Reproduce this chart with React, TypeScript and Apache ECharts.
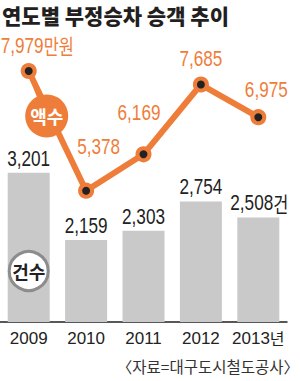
import React, { useEffect, useRef } from "react";
import * as echarts from "echarts";

const years = ["2009", "2010", "2011", "2012", "2013"];
const passengerCounts = [3201, 2159, 2303, 2754, 2508];
const fineAmounts = [7979, 5378, 6169, 7685, 6975];
const title = "연도별 부정승차 승객 추이";
const source = "〈자료=대구도시철도공사〉";
const countUnit = "건";
const amountUnit = "만원";
const yearUnit = "년";

const ORANGE = "#ef7d3a";
const GRAY = "#c9c9c9";
const NUM_FONT = "'Liberation Sans', Arial, 'Noto Sans CJK KR', sans-serif";
const KR_FONT = "'Noto Sans CJK KR', sans-serif";
const SQUEEZE = 0.78;

const fmt = (v: number) => v.toLocaleString("en-US");

// line-label anchor offsets relative to each point (dx, dy)
const lineLabelOffsets: [number, number][] = [
  [-28, -15],
  [12.5, -33.5],
  [-4.5, -31],
  [0, -15],
  [8, -17],
];

export default function App() {
  const ref = useRef<HTMLDivElement>(null);
  useEffect(() => {
    if (!ref.current) return;
    const chart = echarts.init(ref.current, undefined, { renderer: "svg" });
    const n = years.length;
    chart.setOption({
      animation: false,
      backgroundColor: "#ffffff",
      grid: { left: 0, right: 13, top: 20, bottom: 59, containLabel: false },
      xAxis: {
        type: "category",
        data: years,
        axisLine: { show: true, lineStyle: { color: "#222", width: 1.5 } },
        axisTick: { show: false },
        axisLabel: {
          interval: 0,
          margin: 8,
          fontSize: 17,
          color: "#222",
          fontFamily: "'Liberation Sans', Arial, sans-serif",
          formatter: (v: string, i: number) =>
            i === n - 1 ? "{y|" + v + "}{u|" + yearUnit + "}" : "{y|" + v + "}",
          rich: {
            y: { fontSize: 17, color: "#222", fontFamily: "'Liberation Sans', Arial, sans-serif" },
            u: { fontSize: 16, color: "#222", fontFamily: KR_FONT, padding: [0, 0, 1, 0] },
          },
        },
      },
      yAxis: [
        { type: "value", min: 890, max: 5565, show: false, splitLine: { show: false } },
        { type: "value", min: 2525, max: 9087, show: false, splitLine: { show: false } },
      ],
      series: [
        {
          type: "bar",
          yAxisIndex: 0,
          barWidth: 42,
          data: passengerCounts,
          itemStyle: { color: GRAY },
          z: 2,
        },
        {
          type: "line",
          yAxisIndex: 1,
          data: fineAmounts,
          lineStyle: { color: ORANGE, width: 6 },
          symbol: "circle",
          symbolSize: 12,
          itemStyle: { color: "#222", borderColor: ORANGE, borderWidth: 4 },
          z: 5,
        },
      ],
    });

    const graphics: any[] = [];
    passengerCounts.forEach((v, i) => {
      const p = chart.convertToPixel({ xAxisIndex: 0, yAxisIndex: 0 }, [i, v]) as number[];
      const last = i === n - 1;
      graphics.push({
        type: "text",
        x: p[0] + (last ? 1 : 0),
        y: p[1] - 4,
        scaleX: SQUEEZE,
        style: {
          text: last ? "{n|" + fmt(v) + "}{u|" + countUnit + "}" : "{n|" + fmt(v) + "}",
          align: "center",
          verticalAlign: "bottom",
          fill: "#222",
          rich: {
            n: { fontSize: 22, fill: "#222", fontFamily: NUM_FONT },
            u: { fontSize: 21, fill: "#222", fontFamily: KR_FONT },
          },
        },
        z: 10,
      });
    });
    fineAmounts.forEach((v, i) => {
      const p = chart.convertToPixel({ xAxisIndex: 0, yAxisIndex: 1 }, [i, v]) as number[];
      const first = i === 0;
      const [dx, dy] = lineLabelOffsets[i];
      graphics.push({
        type: "text",
        x: p[0] + dx,
        y: p[1] + dy,
        scaleX: SQUEEZE,
        style: {
          text: first ? "{n|" + fmt(v) + "}{u|" + amountUnit + "}" : "{n|" + fmt(v) + "}",
          align: first ? "left" : "center",
          verticalAlign: "bottom",
          fill: ORANGE,
          rich: {
            n: { fontSize: 22, fill: ORANGE, fontFamily: NUM_FONT },
            u: { fontSize: 21, fill: ORANGE, fontFamily: KR_FONT },
          },
        },
        z: 10,
      });
    });

    const p0 = chart.convertToPixel({ xAxisIndex: 0, yAxisIndex: 1 }, [0, fineAmounts[0]]) as number[];
    const b0 = chart.convertToPixel({ xAxisIndex: 0, yAxisIndex: 0 }, [0, passengerCounts[0]]) as number[];
    const bx = p0[0] + 18;
    const by = p0[1] + 45;
    graphics.push(
      {
        type: "text",
        left: 2,
        top: 4,
        style: { text: title, fontSize: 21, fontWeight: 900, fill: "#231f20", fontFamily: KR_FONT },
      },
      {
        type: "text",
        right: 1,
        top: 358,
        style: { text: source, fontSize: 15.5, fill: "#333", fontFamily: KR_FONT },
      },
      {
        type: "line",
        shape: { x1: p0[0], y1: p0[1], x2: bx, y2: by },
        style: { stroke: ORANGE, lineWidth: 4 },
        z: 4,
      },
      {
        type: "circle",
        shape: { cx: bx, cy: by, r: 21.5 },
        style: { fill: ORANGE },
        z: 7,
      },
      {
        type: "text",
        x: bx,
        y: by,
        style: {
          text: "액수",
          fontSize: 18,
          fontWeight: "bold",
          fill: "#fff",
          fontFamily: KR_FONT,
          align: "center",
          verticalAlign: "middle",
        },
        z: 8,
      },
      {
        type: "circle",
        shape: { cx: b0[0], cy: 271, r: 19.5 },
        style: { fill: "#fff", stroke: "#8c8c8c", lineWidth: 3 },
        z: 7,
      },
      {
        type: "text",
        x: b0[0],
        y: 271,
        style: {
          text: "건수",
          fontSize: 18,
          fontWeight: "bold",
          fill: "#222",
          fontFamily: KR_FONT,
          align: "center",
          verticalAlign: "middle",
        },
        z: 8,
      }
    );
    chart.setOption({ graphic: graphics });
    return () => chart.dispose();
  }, []);
  return <div ref={ref} style={{ width: 300, height: 381, position: "absolute", left: 0, top: 0 }} />;
}
